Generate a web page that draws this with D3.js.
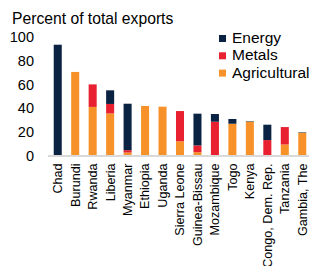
<!DOCTYPE html>
<html>
<head>
<meta charset="utf-8">
<script src="https://cdn.jsdelivr.net/npm/d3@7"></script>
<style>
body { margin: 0; background: #fff; }
svg { display: block; font-family: "Liberation Sans", Arial, sans-serif; }
</style>
</head>
<body>
<div id="plot"></div>
<script>
// data
var countries = ["Chad", "Burundi", "Rwanda", "Liberia", "Myanmar", "Ethiopia", "Uganda",
    "Sierra Leone", "Guinea-Bissau", "Mozambique", "Togo", "Kenya", "Congo, Dem. Rep.", "Tanzania", "Gambia, The"]
var agricultural = [0, 70.5, 41, 35.5, 2.5, 41.8, 41.2, 12, 2.8, 0, 26.8, 28.5, 0, 9.3, 19.2]
var metals = [0, 0, 19, 8, 2, 0, 0, 25.5, 5.7, 28.5, 0, 0, 13, 14.7, 0]
var energy = [93.5, 0, 0, 11.5, 39.2, 0, 0, 0, 26.8, 6.5, 4, 0.4, 13, 0, 0.4]
var yTicks = [0, 20, 40, 60, 80, 100]

var series = ["Energy", "Metals", "Agricultural"]
var colors = {Energy: "#0b2343", Metals: "#e8202f", Agricultural: "#f7922a"}

var rows = countries.map(function (c, i) {
    return {name: c, Agricultural: agricultural[i], Metals: metals[i], Energy: energy[i]}
})

var width = 309, height = 266

var svg = d3.select("#plot").append("svg")
    .attr("width", width)
    .attr("height", height)

var x = d3.scaleBand()
    .domain(countries)
    .range([49, 311])
    .paddingInner(0.54)
    .paddingOuter(0.27)

var y = d3.scaleLinear().domain([0, 100]).range([155.5, 37])

// stack bottom to top: agricultural, metals, energy
var stack = d3.stack().keys(["Agricultural", "Metals", "Energy"])(rows)

// title
svg.append("text")
    .attr("x", 12)
    .attr("y", 24)
    .style("font-size", "15.7px")
    .attr("fill", "#000")
    .text("Percent of total exports")

// y axis labels
var yAxis = svg.append("g")
    .attr("transform", "translate(34,0)")
    .call(d3.axisLeft(y).tickValues(yTicks).tickSize(0).tickPadding(0))
yAxis.select(".domain").remove()
yAxis.selectAll("text")
    .style("font-size", "14.5px")
    .style("font-family", "Liberation Sans, Arial, sans-serif")
    .attr("fill", "#000")

// bars
svg.selectAll(".layer")
    .data(stack)
    .enter().append("g")
    .attr("class", "layer")
    .attr("fill", function (d) { return colors[d.key] })
    .selectAll("rect")
    .data(function (d) { return d })
    .enter().append("rect")
    .attr("x", function (d) { return x(d.data.name) })
    .attr("y", function (d) { return y(d[1]) })
    .attr("width", x.bandwidth())
    .attr("height", function (d) { return Math.max(0, y(d[0]) - y(d[1])) })

// baseline
svg.append("line")
    .attr("x1", 48).attr("x2", 309)
    .attr("y1", y(0) + 0.5).attr("y2", y(0) + 0.5)
    .attr("stroke", "#d9d9d9")
    .attr("stroke-width", 2)

// x axis labels
var xAxis = svg.append("g")
    .attr("transform", "translate(0," + (y(0) + 6) + ")")
    .call(d3.axisBottom(x).tickSize(0).tickPadding(0))
xAxis.select(".domain").remove()
xAxis.selectAll("text")
    .attr("transform", "rotate(-90)")
    .attr("x", -2)
    .attr("y", 0)
    .attr("dy", "0.35em")
    .attr("text-anchor", "end")
    .style("font-size", "12.6px")
    .style("font-family", "Liberation Sans, Arial, sans-serif")
    .attr("fill", "#000")

// legend
var legend = svg.append("g").attr("transform", "translate(219,35)")
series.forEach(function (s, i) {
    var row = legend.append("g").attr("transform", "translate(0," + i * 17.3 + ")")
    row.append("rect")
        .attr("width", 7).attr("height", 7)
        .attr("fill", colors[s])
    row.append("text")
        .attr("x", 13)
        .attr("y", 8)
        .style("font-size", "15.5px")
        .attr("fill", "#000")
        .text(s)
})
</script>
</body>
</html>
